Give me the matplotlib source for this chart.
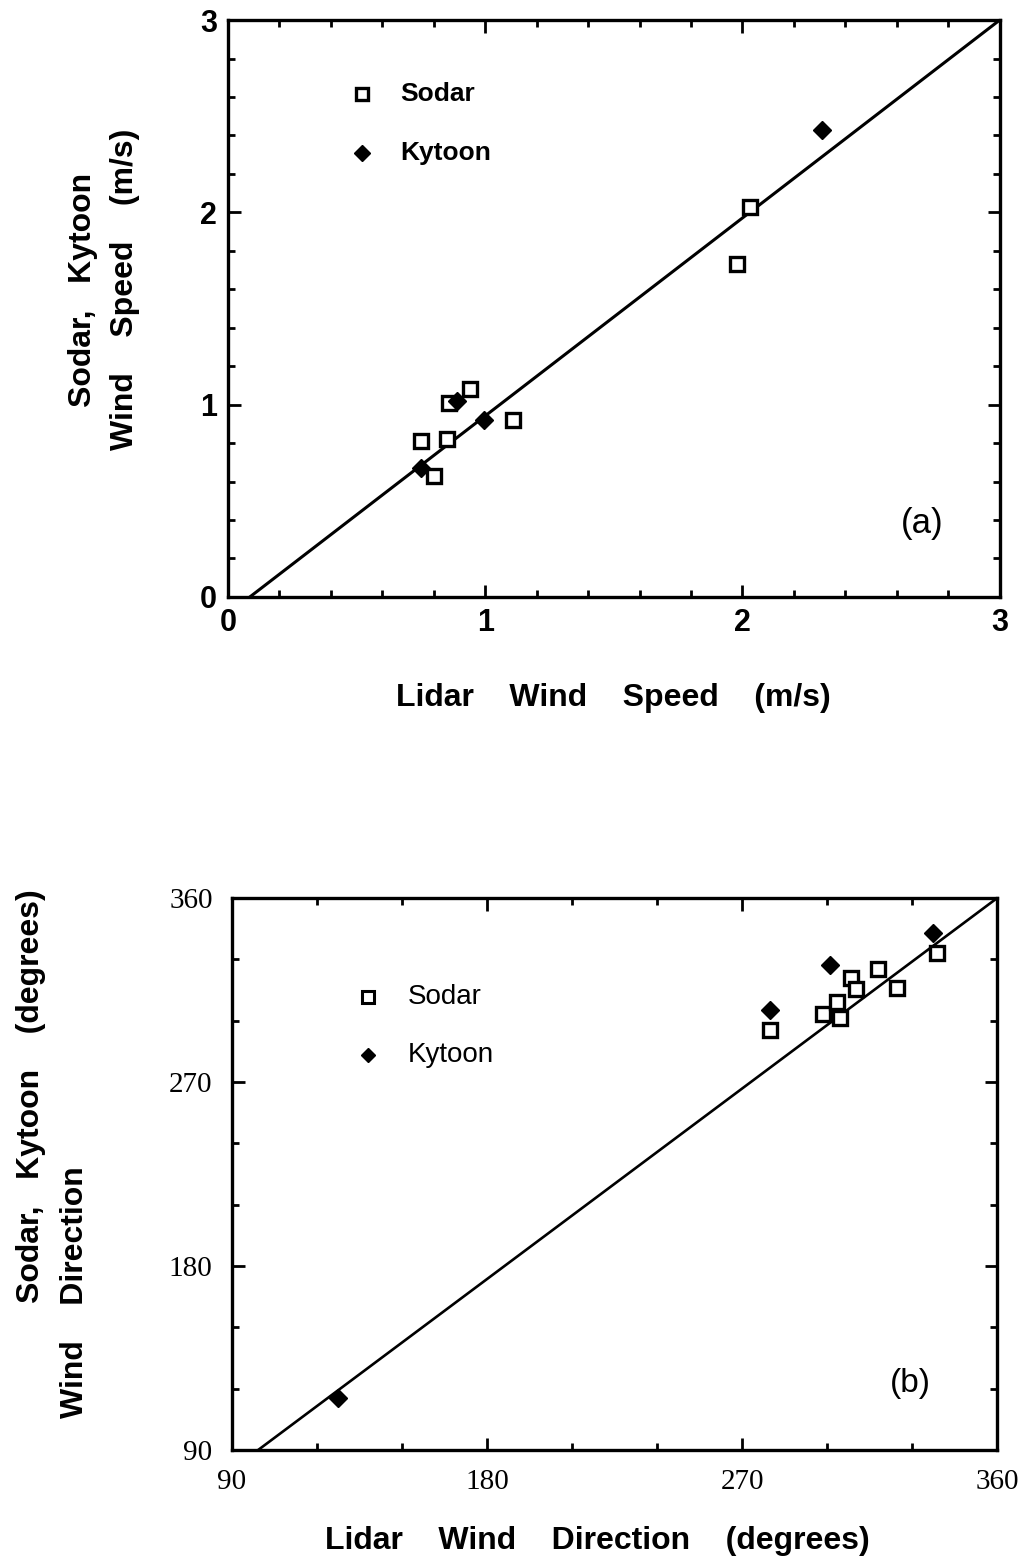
import numpy as np
import matplotlib
matplotlib.use("Agg")
import matplotlib.pyplot as plt
from matplotlib.ticker import MultipleLocator

# ---- panel (a): wind speed (m/s) ----
sodar_spd_x = [0.75, 0.80, 0.85, 0.86, 0.94, 1.11, 1.98, 2.03]
sodar_spd_y = [0.81, 0.63, 0.82, 1.01, 1.08, 0.92, 1.73, 2.03]
kytoon_spd_x = [0.75, 0.89, 0.995, 2.31]
kytoon_spd_y = [0.67, 1.02, 0.92, 2.43]
fit_spd = (1.029, -0.0875)          # slope, intercept
spd_ticks = [0, 1, 2, 3]

# ---- panel (b): wind direction (degrees) ----
sodar_dir_x = [279.9, 298.6, 303.6, 304.6, 308.5, 310.3, 318.0, 324.7, 338.9]
sodar_dir_y = [295.4, 303.2, 309.1, 301.3, 320.9, 315.5, 325.3, 316.0, 333.1]
kytoon_dir_x = [127.4, 279.9, 301.1, 337.4]
kytoon_dir_y = [115.4, 305.2, 327.2, 342.9]
fit_dir = (1.035, -12.7)
dir_ticks = [90, 180, 270, 360]

sans = "Liberation Sans"
serif = "Liberation Serif"

fig = plt.figure(figsize=(10.2, 15.66), dpi=100)
ax1 = fig.add_axes([0.2235, 0.6188, 0.7565, 0.3684])
ax2 = fig.add_axes([0.2275, 0.0741, 0.75, 0.3525])


def style_axes(ax, lims, ticks, minor, labfont, labweight, labsize, pad):
    ax.set_xlim(lims)
    ax.set_ylim(lims)
    ax.set_xticks(ticks)
    ax.set_yticks(ticks)
    ax.xaxis.set_minor_locator(MultipleLocator(minor))
    ax.yaxis.set_minor_locator(MultipleLocator(minor))
    ax.tick_params(which="both", direction="in", top=True, right=True, width=2)
    ax.tick_params(which="major", length=9, pad=pad)
    ax.tick_params(which="minor", length=5)
    for sp in ax.spines.values():
        sp.set_linewidth(2.4)
    for lab in ax.get_xticklabels() + ax.get_yticklabels():
        lab.set_fontfamily(labfont)
        lab.set_fontweight(labweight)
        lab.set_fontsize(labsize)


# panel (a)
xs = np.array([0, 3.0])
ax1.plot(xs, fit_spd[0] * xs + fit_spd[1], color="black", lw=2.2)
ax1.plot(sodar_spd_x, sodar_spd_y, ls="none", marker="s", ms=10, mfc="white",
         mec="black", mew=2.4)
ax1.plot(kytoon_spd_x, kytoon_spd_y, ls="none", marker="D", ms=9, color="black")
style_axes(ax1, (0, 3), spd_ticks, 0.2, sans, "bold", 22, 8)
ax1.set_xlabel("Lidar    Wind    Speed    (m/s)", fontfamily=sans, fontweight="bold",
               fontsize=23, labelpad=32)
ax1.plot([0.52], [2.615], ls="none", marker="s", ms=8, mfc="white", mec="black", mew=2.4)
ax1.plot([0.52], [2.31], ls="none", marker="D", ms=8, color="black")
ax1.text(0.67, 2.615, "Sodar", fontfamily=sans, fontweight="bold", fontsize=19, va="center")
ax1.text(0.67, 2.31, "Kytoon", fontfamily=sans, fontweight="bold", fontsize=19, va="center")
ax1.text(2.7, 0.38, "(a)", fontfamily=sans, fontsize=25, ha="center", va="center")
fig.text(0.081, 0.815, "Sodar,   Kytoon", rotation=90, fontfamily=sans,
         fontweight="bold", fontsize=23, ha="center", va="center")
fig.text(0.123, 0.815, "Wind    Speed    (m/s)", rotation=90, fontfamily=sans,
         fontweight="bold", fontsize=23, ha="center", va="center")

# panel (b)
xd = np.array([90, 360.0])
ax2.plot(xd, fit_dir[0] * xd + fit_dir[1], color="black", lw=1.9)
ax2.plot(sodar_dir_x, sodar_dir_y, ls="none", marker="s", ms=10, mfc="white",
         mec="black", mew=2.4)
ax2.plot(kytoon_dir_x, kytoon_dir_y, ls="none", marker="D", ms=9, color="black")
style_axes(ax2, (90, 360), dir_ticks, 30, serif, "normal", 21, 14)
ax2.set_xlabel("Lidar    Wind    Direction    (degrees)", fontfamily=sans,
               fontweight="bold", fontsize=23)
ax2.xaxis.set_label_coords(0.478, -0.138)
ax2.plot([138], [311.6], ls="none", marker="s", ms=8, mfc="white", mec="black", mew=2.2)
ax2.plot([138], [283.2], ls="none", marker="D", ms=7, color="black")
ax2.text(152, 311.6, "Sodar", fontfamily=sans, fontsize=20, va="center")
ax2.text(152, 283.2, "Kytoon", fontfamily=sans, fontsize=20, va="center")
ax2.text(329.3, 122.7, "(b)", fontfamily=sans, fontsize=24, ha="center", va="center")
fig.text(0.030, 0.30, "Sodar,   Kytoon    (degrees)", rotation=90, fontfamily=sans,
         fontweight="bold", fontsize=23, ha="center", va="center")
fig.text(0.074, 0.175, "Wind    Direction", rotation=90, fontfamily=sans,
         fontweight="bold", fontsize=23, ha="center", va="center")

fig.savefig("out.png", dpi=100)
